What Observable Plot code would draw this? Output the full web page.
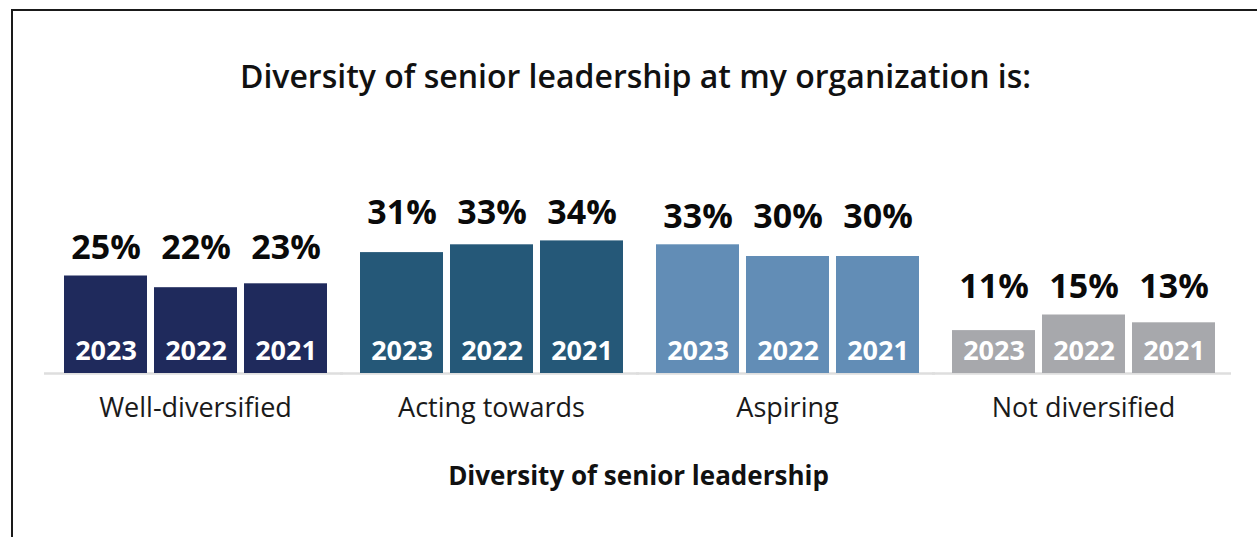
<!DOCTYPE html>
<html>
<head>
<meta charset="utf-8">
<script src="https://cdn.jsdelivr.net/npm/d3@7"></script>
<script src="https://cdn.jsdelivr.net/npm/@observablehq/plot@0.6"></script>
<style>
  html, body { margin: 0; padding: 0; background: #fff; overflow: hidden; }
  body { width: 1257px; height: 537px; position: relative; font-family: "Open Sans", sans-serif; }
  #frame { position: absolute; left: 11px; top: 9px; width: 1400px; height: 700px;
           border-top: 2px solid #1a1a1a; border-left: 2px solid #1a1a1a; }
  #title { position: absolute; top: 54px; left: 7px; width: 1257px; text-align: center;
           font-size: 32px; line-height: 44px; font-weight: 600; color: #111; white-space: nowrap; }
  #chart { position: absolute; top: 130px; left: 0; }
  #xlabel { position: absolute; top: 458px; left: 62px; width: 1153px; text-align: center;
            font-size: 26px; line-height: 35px; font-weight: 700; color: #111; white-space: nowrap; }
</style>
</head>
<body>
<div id="frame"></div>
<div id="title">Diversity of senior leadership at my organization is:</div>
<div id="chart"></div>
<div id="xlabel">Diversity of senior leadership</div>
<script>
const categories = ["Well-diversified", "Acting towards", "Aspiring", "Not diversified"];
const years = ["2023", "2022", "2021"];
const values2023 = [25, 31, 33, 11];
const values2022 = [22, 33, 30, 15];
const values2021 = [23, 34, 30, 13];
const colors = ["#1f2a5c", "#255878", "#628db6", "#a7a8ac"];

const series = {"2023": values2023, "2022": values2022, "2021": values2021};
const data = [];
categories.forEach((c, i) => {
  const groupMax = d3.max(years, y => series[y][i]);
  years.forEach(y => data.push({category: c, year: y, value: series[y][i], groupMax}));
});

const font = "Open Sans";
const chart = Plot.plot({
  width: 1257,
  height: 407,
  marginLeft: 62,
  marginRight: 42,
  marginTop: 106.5,
  marginBottom: 164,
  style: {fontFamily: font, background: "transparent"},
  fx: {domain: categories, paddingInner: 0.109, paddingOuter: 0, axis: null, label: null},
  x: {domain: years, paddingInner: 0.083, paddingOuter: 0, axis: null, label: null},
  y: {domain: [0, 35], axis: null, label: null},
  color: {domain: categories, range: colors},
  marks: [
    Plot.ruleY([0], {stroke: "#dedede", strokeWidth: 2.5, insetLeft: -19, insetRight: -16}),
    Plot.barY(data, {fx: "category", x: "year", y: "value", fill: "category"}),
    Plot.text(data, {fx: "category", x: "year", y: "groupMax", text: d => d.value + "%",
      dy: -28, fontSize: 34, fontWeight: 700, fill: "#0a0a0a", fontFamily: font}),
    Plot.text(data, {fx: "category", x: "year", text: "year", frameAnchor: "bottom",
      dy: -14, fontSize: 27, fontWeight: 700, fill: "#ffffff", fontFamily: font}),
    Plot.text(categories, {fx: d => d, text: d => d, frameAnchor: "bottom",
      dy: 43, fontSize: 27, fontWeight: 400, fill: "#1a1a1a", fontFamily: font})
  ]
});
document.getElementById("chart").appendChild(chart);
</script>
</body>
</html>
